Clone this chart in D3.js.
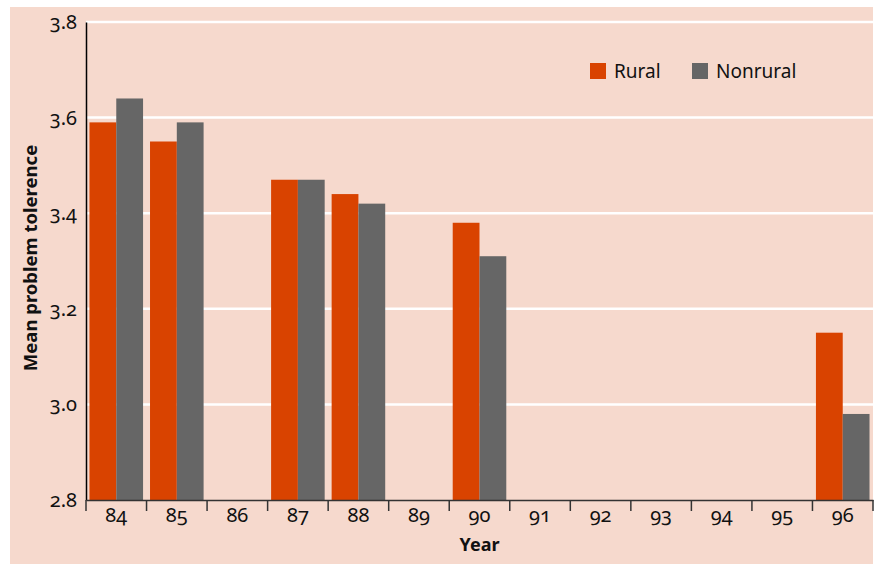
<!DOCTYPE html>
<html><head><meta charset="utf-8">
<script src="https://cdn.jsdelivr.net/npm/d3@7"></script>
<style>body{margin:0;background:#fff}svg{display:block}text{font-family:"Noto Sans",sans-serif;font-variant-numeric:oldstyle-nums}</style>
</head><body>
<svg id="c" width="879" height="564"></svg>
<script>
const years = ["84","85","86","87","88","89","90","91","92","93","94","95","96"];
const series = ["Rural","Nonrural"];
const rural =    [3.59,3.55,null,3.47,3.44,null,3.38,null,null,null,null,null,3.15];
const nonrural = [3.64,3.59,null,3.47,3.42,null,3.31,null,null,null,null,null,2.98];
const yTicks = [2.8,3.0,3.2,3.4,3.6,3.8];
const colors = ["#D94300","#666666"];

const svg = d3.select("#c");
svg.append("rect").attr("x",10).attr("y",7).attr("width",863).attr("height",557).attr("fill","#F6D9CD");

const m = {l:86, r:873, t:22, b:500};
const x = d3.scaleBand().domain(years).range([m.l,m.r]).padding(0);
const x1 = d3.scaleBand().domain(series).range([0,x.bandwidth()]).paddingInner(0).paddingOuter(0.13);
const y = d3.scaleLinear().domain([2.8,3.8]).range([m.b,m.t]);

// gridlines
svg.append("g").selectAll("line").data(yTicks.slice(1)).join("line")
  .attr("x1",m.l).attr("x2",m.r).attr("y1",d=>y(d)).attr("y2",d=>y(d))
  .attr("stroke","#fff").attr("stroke-width",2.5);

// bars
const data = [];
years.forEach((yr,i)=>{
  [rural[i],nonrural[i]].forEach((v,j)=>{ if(v!=null) data.push({yr,s:series[j],v,c:colors[j]}); });
});
svg.append("g").selectAll("rect").data(data).join("rect")
  .attr("x",d=>x(d.yr)+x1(d.s)).attr("width",x1.bandwidth())
  .attr("y",d=>y(d.v)).attr("height",d=>y(2.8)-y(d.v)).attr("fill",d=>d.c);

// y axis
const ya = svg.append("g").attr("transform",`translate(${m.l},0)`)
  .call(d3.axisLeft(y).tickValues(yTicks).tickFormat(d3.format(".1f")).tickSize(0).tickPadding(9));
ya.select(".domain").attr("stroke","#000").attr("stroke-width",1.5);
ya.selectAll("text").attr("font-size",20).attr("fill","#111").attr("font-family",null);

// x axis
const xa = svg.append("g").attr("transform",`translate(0,${m.b})`)
  .call(d3.axisBottom(x).tickSize(0).tickPadding(8));
xa.select(".domain").attr("stroke","#333").attr("stroke-width",1.5);
xa.selectAll("text").attr("font-size",20).attr("fill","#111").attr("font-family",null);
xa.append("g").selectAll("line").data(years.concat([null])).join("line")
  .attr("x1",d=>d==null?m.r:x(d)).attr("x2",d=>d==null?m.r:x(d))
  .attr("y1",0).attr("y2",11).attr("stroke","#333").attr("stroke-width",1.5);

// axis titles
svg.append("text").attr("x",(m.l+m.r)/2).attr("y",551).attr("text-anchor","middle")
  .attr("font-size",18).attr("font-weight","bold").attr("fill","#111").text("Year");
svg.append("text").attr("transform","translate(37,258) rotate(-90)").attr("text-anchor","middle")
  .attr("font-size",18.5).attr("font-weight","bold").attr("fill","#111").text("Mean problem tolerence");

// legend
const lg = svg.append("g");
const lx = [590,692];
series.forEach((s,i)=>{
  lg.append("rect").attr("x",lx[i]).attr("y",63).attr("width",16).attr("height",16).attr("fill",colors[i]);
  lg.append("text").attr("x",lx[i]+24).attr("y",78).attr("font-size",19).attr("fill","#111").text(s);
});
</script>
</body></html>
